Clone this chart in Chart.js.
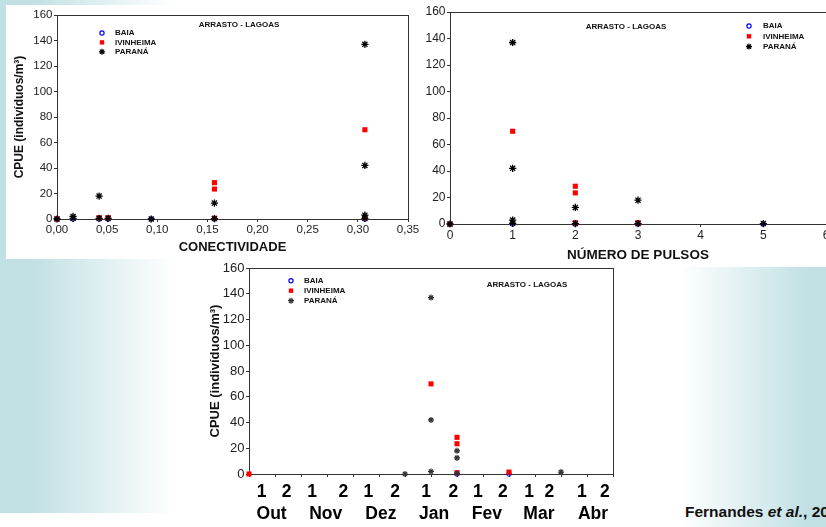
<!DOCTYPE html>
<html>
<head>
<meta charset="utf-8">
<script src="https://cdn.jsdelivr.net/npm/chart.js@4.4.1/dist/chart.umd.min.js"></script>
<style>
  html, body { margin: 0; padding: 0; width: 826px; height: 527px; overflow: hidden; background: #fff; }
  body { position: relative; font-family: "Liberation Sans", Arial, sans-serif; }
  .bgLeft { position: absolute; left: 0; top: 0; width: 410px; height: 513px;
            background: linear-gradient(to right, #c0e0e4 0px, #c0e0e4 30px, #ffffff 175px); }
  .bgRight { position: absolute; left: 680px; top: 267px; width: 146px; height: 260px;
             background: linear-gradient(to right, #ffffff 0px, #c0e0e4 130px); }
  .panel1 { position: absolute; left: 6px; top: 5px; width: 406px; height: 254px; background: #fff; }
  canvas { position: absolute; }
  #conChart { left: 0; top: 0; }
  #pulChart { left: 400px; top: 0; }
  #perChart { left: 180px; top: 258px; }
  .ref { position: absolute; left: 685px; top: 503px; font-size: 15.5px; font-weight: bold;
         line-height: 17px; white-space: nowrap; color: #111; }
</style>
</head>
<body>
<div class="bgLeft"></div>
<div class="bgRight"></div>
<div class="panel1"></div>
<canvas id="conChart" width="430" height="262"></canvas>
<canvas id="pulChart" width="440" height="266"></canvas>
<canvas id="perChart" width="460" height="269"></canvas>
<div class="ref">Fernandes <i>et al.</i>, 2009</div>

<script>
// series
const seriesNames = ['BAIA', 'IVINHEIMA', 'PARANÁ'];
const chartTitle = 'ARRASTO - LAGOAS';

// CPUE x conectividade
const conBaiaX = [0, 0.016, 0.042, 0.051, 0.094, 0.157, 0.307];
const conBaiaY = [0, 0, 0, 0, 0, 0, 0];
const conIvinX = [0, 0.042, 0.051, 0.157, 0.157, 0.157, 0.307, 0.307];
const conIvinY = [0, 1, 1, 28.5, 23.5, 0.5, 70, 1];
const conParX = [0, 0.016, 0.016, 0.042, 0.042, 0.051, 0.094, 0.157, 0.157, 0.307, 0.307, 0.307, 0.307];
const conParY = [0, 2, 0.5, 18, 0.5, 0.5, 0, 12.5, 0.3, 137, 42, 3, 0.5];

// CPUE x numero de pulsos
const pulBaiaX = [0, 1, 2, 3, 5];
const pulBaiaY = [0, 0, 0, 0, 0];
const pulIvinX = [0, 1, 2, 2, 2, 3];
const pulIvinY = [0, 70, 28.5, 23.5, 1, 1];
const pulParX = [0, 1, 1, 1, 1, 2, 2, 3, 3, 5];
const pulParY = [0, 137, 42, 3, 0.5, 12.5, 0.3, 18, 0.3, 0.3];

// CPUE x periodo (quinzenas out-abr)
const perBaiaX = [8, 10];
const perBaiaY = [0, 0];
const perIvinX = [0, 7, 8, 8, 8, 10];
const perIvinY = [0, 70, 28.5, 23.5, 1, 1.5];
const perParX = [6, 7, 7, 7, 8, 8, 8, 12];
const perParY = [0, 137, 42, 2, 18, 12.5, 0.5, 1.5];

const periodLabels = ['1', '2', '1', '2', '1', '2', '1', '2', '1', '2', '1', '2', '1', '2'];
const monthLabels = ['Out', 'Nov', 'Dez', 'Jan', 'Fev', 'Mar', 'Abr'];

// where the hand placed labels sit on the period axis
const periodLabelAt = [0.49, 1.45, 2.43, 3.63, 4.59, 5.62, 6.81, 7.86, 8.8, 9.76, 10.77, 11.55, 12.8, 13.69];
const monthLabelAt = [0.87, 2.95, 5.07, 7.12, 9.15, 11.15, 13.23];

Chart.defaults.font.family = '"Liberation Sans", Arial, sans-serif';
Chart.defaults.color = '#222';

const pts = (xs, ys) => xs.map((x, i) => ({ x: x, y: ys[i] }));

function seriesSets(xb, yb, xi, yi, xp, yp, parColor, parSize, parWidth) {
    return [
        { label: seriesNames[0], data: pts(xb, yb), pointStyle: 'circle', pointRadius: 2.3,
          pointBorderColor: '#0000ff', pointBackgroundColor: 'rgba(0,0,0,0)', pointBorderWidth: 1, order: 2 },
        { label: seriesNames[1], data: pts(xi, yi), pointStyle: 'rect', pointRadius: 3.6,
          pointBorderColor: '#ff0000', pointBackgroundColor: '#ff0000', pointBorderWidth: 0, order: 1 },
        { label: seriesNames[2], data: pts(xp, yp), pointStyle: 'star', pointRadius: parSize,
          pointBorderColor: parColor, pointBackgroundColor: parColor, pointBorderWidth: parWidth, order: 0 }
    ];
}

function drawMarker(ctx, style, x, y, r, color) {
    ctx.save();
    ctx.strokeStyle = color;
    ctx.fillStyle = color;
    ctx.lineWidth = 1.2;
    ctx.beginPath();
    if (style === 'circle') {
        ctx.arc(x, y, r, 0, Math.PI * 2);
        ctx.stroke();
    } else if (style === 'rect') {
        ctx.fillRect(x - r, y - r, r * 2, r * 2);
    } else {
        for (let a = 0; a < 4; a++) {
            const t = a * Math.PI / 4;
            ctx.moveTo(x - r * Math.cos(t), y - r * Math.sin(t));
            ctx.lineTo(x + r * Math.cos(t), y + r * Math.sin(t));
        }
        ctx.stroke();
    }
    ctx.restore();
}

// frame round the plot + title and legend inside it
const panelText = {
    id: 'panelText',
    beforeDatasetsDraw(chart) {
        const ca = chart.chartArea, ctx = chart.ctx;
        ctx.save();
        ctx.strokeStyle = '#333';
        ctx.lineWidth = 1;
        ctx.strokeRect(ca.left + 0.5, ca.top + 0.5, ca.right - ca.left, ca.bottom - ca.top);
        ctx.restore();
    },
    afterDraw(chart, args, o) {
        const ctx = chart.ctx;
        ctx.save();
        ctx.fillStyle = '#111';
        ctx.font = 'bold 8px "Liberation Sans", Arial, sans-serif';
        ctx.textBaseline = 'middle';
        ctx.textAlign = 'center';
        ctx.fillText(chartTitle, o.titleX, o.titleY);
        ctx.textAlign = 'left';
        const sizes = [2.1, 2.2, 3];
        chart.data.datasets.forEach((ds, i) => {
            const y = o.legY + i * o.legDy;
            drawMarker(ctx, ds.pointStyle, o.legX, y, sizes[i], ds.pointBorderColor);
            ctx.fillStyle = '#111';
            ctx.fillText(ds.label, o.legTextX, y);
        });
        ctx.restore();
    }
};

function noPad(s) {
    s.paddingLeft = 0; s.paddingRight = 0; s.paddingTop = 0; s.paddingBottom = 0;
}

function cpueAxis(width, fontSize, title) {
    return {
        min: 0, max: 160,
        afterFit: s => { s.width = width; noPad(s); },
        border: { display: false },
        grid: { drawOnChartArea: false, tickLength: 3, color: '#333' },
        ticks: { stepSize: 20, padding: 1.5, color: '#222', font: { size: fontSize } },
        title: title
    };
}

function yTitle(size, padTop) {
    return { display: true, text: 'CPUE (indivíduos/m³)', color: '#111',
             font: { size: size, weight: 'bold' }, padding: { top: padTop, bottom: 0 } };
}

function scatterChart(id, sets, pad, scales, text) {
    return new Chart(document.getElementById(id), {
        type: 'scatter',
        data: { datasets: sets },
        options: {
            responsive: false,
            animation: false,
            clip: false,
            layout: { padding: pad },
            plugins: { legend: { display: false }, tooltip: { enabled: false }, panelText: text },
            scales: scales
        },
        plugins: [panelText]
    });
}

// chart 1 - conectividade
scatterChart('conChart',
    seriesSets(conBaiaX, conBaiaY, conIvinX, conIvinY, conParX, conParY, '#000', 3.6, 1.3),
    { left: 0, right: 22, top: 15, bottom: 0 },
    {
        x: {
            type: 'linear', min: 0, max: 0.35,
            afterFit: s => { s.height = 43; noPad(s); },
            border: { display: false },
            grid: { drawOnChartArea: false, tickLength: 3, color: '#333' },
            ticks: { stepSize: 0.05, padding: 0.5, font: { size: 11.5 },
                     callback: v => v.toFixed(2).replace('.', ',') },
            title: { display: true, text: 'CONECTIVIDADE', color: '#111',
                     font: { size: 13, weight: 'bold' }, padding: { top: 0, bottom: 7 } }
        },
        y: cpueAxis(57, 11.5, yTitle(12, 12))
    },
    { titleX: 239, titleY: 25, legX: 102, legTextX: 115, legY: 33, legDy: 9.4 }
);

// chart 2 - numero de pulsos
scatterChart('pulChart',
    seriesSets(pulBaiaX, pulBaiaY, pulIvinX, pulIvinY, pulParX, pulParY, '#000', 3.6, 1.3),
    { left: 0, right: 14, top: 12, bottom: 0 },
    {
        x: {
            type: 'linear', min: 0, max: 6,
            afterFit: s => { s.height = 42; noPad(s); },
            border: { display: false },
            grid: { drawOnChartArea: false, tickLength: 3, color: '#333' },
            ticks: { stepSize: 1, padding: 1, font: { size: 12 } },
            title: { display: true, text: 'NÚMERO DE PULSOS', color: '#111',
                     font: { size: 13.5, weight: 'bold' }, padding: { top: 0, bottom: 3 } }
        },
        y: cpueAxis(50, 12, { display: false })
    },
    { titleX: 226, titleY: 26.7, legX: 349, legTextX: 363, legY: 26, legDy: 10.3 }
);

// chart 3 - periodo
scatterChart('perChart',
    seriesSets(perBaiaX, perBaiaY, perIvinX, perIvinY, perParX, perParY, '#333', 3, 1.2),
    { left: 0, right: 27, top: 10, bottom: 0 },
    {
        x: {
            type: 'linear', min: 0, max: 14, weight: 0,
            afterFit: s => { s.height = 4; noPad(s); },
            border: { display: false },
            grid: { drawOnChartArea: false, tickLength: 3, color: '#333' },
            ticks: { display: false, stepSize: 1 }
        },
        xp: {
            type: 'linear', position: 'bottom', min: 0, max: 14, weight: 1,
            afterFit: s => { s.height = 26; noPad(s); },
            afterBuildTicks: s => { s.ticks = periodLabelAt.map(v => ({ value: v })); },
            border: { display: false },
            grid: { display: false, drawTicks: false },
            ticks: { autoSkip: false, maxRotation: 0, padding: 4, color: '#000',
                     font: { size: 17.5, weight: 'bold' }, callback: (v, i) => periodLabels[i] }
        },
        xm: {
            type: 'linear', position: 'bottom', min: 0, max: 14, weight: 2,
            afterFit: s => { s.height = 23; noPad(s); },
            afterBuildTicks: s => { s.ticks = monthLabelAt.map(v => ({ value: v })); },
            border: { display: false },
            grid: { display: false, drawTicks: false },
            ticks: { autoSkip: false, maxRotation: 0, padding: 0, color: '#000',
                     font: { size: 17.5, weight: 'bold' }, callback: (v, i) => monthLabels[i] }
        },
        y: cpueAxis(69, 13, yTitle(13, 28))
    },
    { titleX: 347, titleY: 27, legX: 111, legTextX: 124, legY: 22.7, legDy: 10 }
);
</script>
</body>
</html>
